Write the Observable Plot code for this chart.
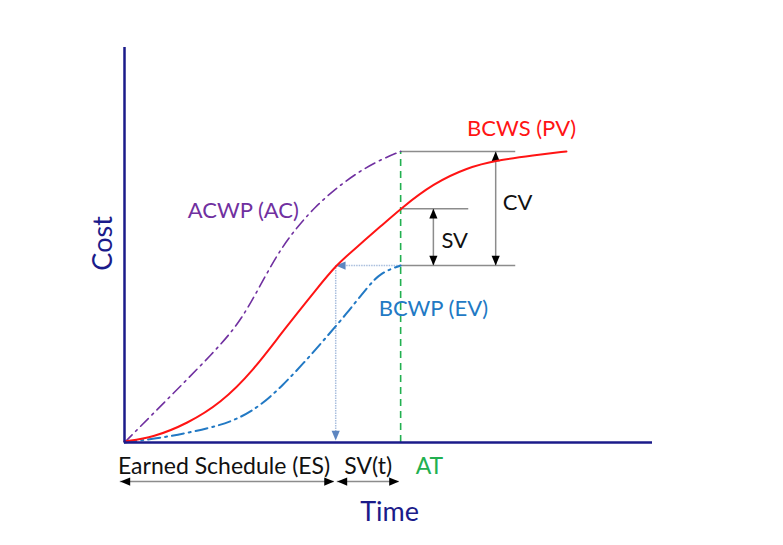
<!DOCTYPE html>
<html>
<head>
<meta charset="utf-8">
<script src="https://cdn.jsdelivr.net/npm/d3@7"></script>
<script src="https://cdn.jsdelivr.net/npm/@observablehq/plot@0.6"></script>
<style>
  html, body { margin: 0; padding: 0; background: #fff; }
  #chart { width: 783px; height: 545px; }
</style>
</head>
<body>
<div id="chart"></div>
<script>
// ---- Data (time and cost in arbitrary units) ----
const pvTime = [0, 5.5, 11.9, 18.2, 24.4, 30.1, 36.6, 40.0, 44.1, 48.5, 52.3, 58.5, 65.0, 70.3, 77.5, 83.7];
const pvCost = [0.25, 1.3, 4.8, 9.9, 18.2, 28.4, 39.2, 44.8, 49.6, 54.7, 59.2, 65.6, 69.6, 71.4, 72.7, 73.7];

const acTime = [0, 5.5, 11.0, 16.5, 21.0, 24.0, 27.0, 30.0, 33.0, 36.0, 40.0, 44.0, 48.0, 52.3];
const acCost = [0, 7.4, 14.8, 22.3, 29.0, 35.5, 43.0, 49.8, 55.0, 59.5, 64.3, 68.2, 71.3, 73.7];

const evTime = [0, 6.0, 12.0, 18.0, 22.0, 26.0, 30.0, 34.0, 38.0, 42.0, 46.0, 48.5, 52.3];
const evCost = [0, 1.0, 2.4, 4.3, 6.3, 9.6, 14.5, 20.2, 26.3, 32.5, 39.3, 43.0, 44.8];

const actualTime = 52.3;      // AT
const earnedSchedule = 40.0;  // ES
const acAtAT = 73.7;          // AC at AT
const pvAtAT = 59.2;          // PV at AT
const evAtAT = 44.8;          // EV at AT
const svX = 58.5;             // where SV bracket is drawn
const cvX = 70.3;             // where CV bracket is drawn
const refLevels = [acAtAT, pvAtAT, evAtAT];
const refEnds = [74.1, 65.2, 74.1];

const seriesLabels = ["BCWS (PV)", "ACWP (AC)", "BCWP (EV)"];
const axisTitles = {x: "Time", y: "Cost"};

// ---- Build tables ----
const pv = pvTime.map((t, i) => ({t, c: pvCost[i]}));
const ac = acTime.map((t, i) => ({t, c: acCost[i]}));
const ev = evTime.map((t, i) => ({t, c: evCost[i]}));

// filled arrowhead symbol with its tip at the anchor point
function head(dx, dy) {
  return {
    draw(ctx, size) {
      const r = Math.sqrt(size / Math.PI);
      const L = 2.3 * r, w = 0.95 * r;
      const bx = -dx * L, by = -dy * L;
      const px = -dy * w, py = dx * w;
      ctx.moveTo(0, 0);
      ctx.lineTo(bx + px, by + py);
      ctx.lineTo(bx - px, by - py);
      ctx.closePath();
    }
  };
}
const UP = head(0, -1), DOWN = head(0, 1), LEFT = head(-1, 0), RIGHT = head(1, 0);

const navy = "#1b1b8a";
const red = "#ff1414";
const purple = "#7030a0";
const blue = "#2279c4";
const green = "#22b050";
const grey = "#8c8c8c";
const font = "Lato, 'Open Sans', sans-serif";

const belowY = -9.9; // y of the bracket arrows below the axis

const chart = Plot.plot({
  width: 783,
  height: 545,
  marginLeft: 124,
  marginRight: 131,
  marginTop: 47,
  marginBottom: 103,
  x: {domain: [0, 100], axis: null},
  y: {domain: [0, 100], axis: null},
  style: {fontFamily: font, background: "white", overflow: "visible"},
  marks: [
    // reference horizontal lines
    Plot.ruleY(refLevels, {x1: actualTime, x2: (d, i) => refEnds[i], stroke: grey, strokeWidth: 1.5}),
    // SV and CV shafts
    Plot.ruleX([svX], {y1: pvAtAT, y2: evAtAT, stroke: grey, strokeWidth: 1.5}),
    Plot.ruleX([cvX], {y1: acAtAT, y2: evAtAT, stroke: grey, strokeWidth: 1.5}),
    Plot.dot([{x: svX, y: pvAtAT, s: UP}, {x: svX, y: evAtAT, s: DOWN}, {x: cvX, y: acAtAT, s: UP}, {x: cvX, y: evAtAT, s: DOWN}],
      {x: "x", y: "y", symbol: "s", r: 4.3, fill: "black", stroke: "none"}),
    // ES projection
    Plot.ruleY([evAtAT], {x1: actualTime, x2: earnedSchedule + 1, stroke: "#a9bedd", strokeWidth: 1.5, strokeDasharray: "1.5,1"}),
    Plot.ruleX([earnedSchedule], {y1: evAtAT, y2: 1, stroke: "#a9bedd", strokeWidth: 1.5, strokeDasharray: "1.5,1"}),
    Plot.dot([{x: earnedSchedule, y: evAtAT, s: LEFT}, {x: earnedSchedule, y: 0.5, s: DOWN}],
      {x: "x", y: "y", symbol: "s", r: 4.3, fill: "#5d86c0", stroke: "none"}),
    // AT line
    Plot.ruleX([actualTime], {y1: 0, y2: acAtAT, stroke: green, strokeWidth: 1.6, strokeDasharray: "7,5"}),
    // curves
    Plot.line(ac, {x: "t", y: "c", curve: "basis", stroke: purple, strokeWidth: 1.6, strokeDasharray: "11,5,2,5"}),
    Plot.line(ev, {x: "t", y: "c", curve: "basis", stroke: blue, strokeWidth: 2, strokeDasharray: "12,5,2,5"}),
    Plot.line(pv, {x: "t", y: "c", curve: "basis", stroke: red, strokeWidth: 2}),
    // axes
    Plot.ruleY([0], {x1: 0, x2: 100, stroke: navy, strokeWidth: 2.5}),
    Plot.ruleX([0], {y1: 0, y2: 100, stroke: navy, strokeWidth: 2.5}),
    // series labels
    Plot.text([seriesLabels[0]], {x: 75.2, y: 79.3, text: d => d, fill: red, fontSize: 22}),
    Plot.text([seriesLabels[1]], {x: 22.5, y: 58.5, text: d => d, fill: purple, fontSize: 22}),
    Plot.text([seriesLabels[2]], {x: 58.5, y: 33.7, text: d => d, fill: blue, fontSize: 22}),
    Plot.text(["SV"], {x: svX, y: (pvAtAT + evAtAT) / 2 - 1, text: d => d, dx: 8, textAnchor: "start", fill: "#111", fontSize: 22}),
    Plot.text(["CV"], {x: cvX, y: (acAtAT + evAtAT) / 2 + 1.5, text: d => d, dx: 7, textAnchor: "start", fill: "#111", fontSize: 22}),
    // below-axis annotations
    Plot.text(["Earned Schedule (ES)"], {x: earnedSchedule / 2, y: -6.1, text: d => d, dx: -6, fill: "#111", fontSize: 23}),
    Plot.text(["SV(t)"], {x: (earnedSchedule + actualTime) / 2, y: -6.1, text: d => d, fill: "#111", fontSize: 23}),
    Plot.text(["AT"], {x: actualTime, y: -6.1, text: d => d, dx: 15, textAnchor: "start", fill: green, fontSize: 23}),
    Plot.ruleY([belowY], {x1: -0.8, x2: earnedSchedule - 0.3, stroke: grey, strokeWidth: 1.5}),
    Plot.ruleY([belowY], {x1: earnedSchedule + 0.3, x2: actualTime - 0.3, stroke: grey, strokeWidth: 1.5}),
    Plot.dot([{x: -0.8, y: belowY, s: LEFT}, {x: earnedSchedule - 0.3, y: belowY, s: RIGHT}, {x: earnedSchedule + 0.3, y: belowY, s: LEFT}, {x: actualTime - 0.3, y: belowY, s: RIGHT}],
      {x: "x", y: "y", symbol: "s", r: 4.3, fill: "black", stroke: "none"}),
    // axis titles
    Plot.text([axisTitles.x], {x: 50.2, y: -17.8, text: d => d, fill: navy, fontSize: 27}),
    Plot.text([axisTitles.y], {x: -4, y: 50.4, text: d => d, rotate: -90, fill: navy, fontSize: 27})
  ]
});
document.getElementById("chart").appendChild(chart);
</script>
</body>
</html>
